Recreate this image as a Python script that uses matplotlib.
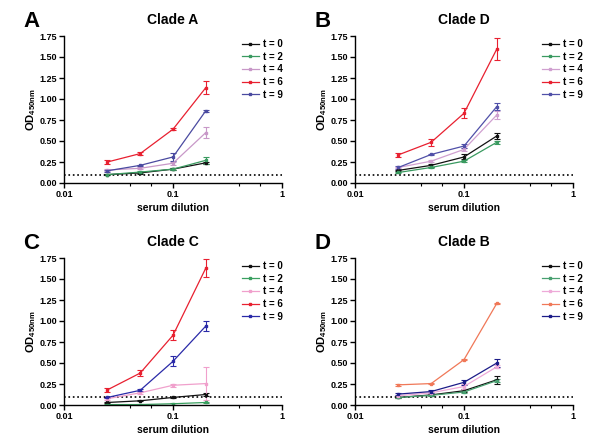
import numpy as np
import matplotlib
matplotlib.use('Agg')
import matplotlib.pyplot as plt
from matplotlib.lines import Line2D
from matplotlib.ticker import FixedLocator, FixedFormatter, MultipleLocator, FormatStrFormatter, NullFormatter

plt.rcParams['font.family'] = ['Liberation Sans', 'DejaVu Sans']
plt.rcParams['font.weight'] = 'bold'
plt.rcParams['mathtext.fontset'] = 'custom'
plt.rcParams['mathtext.bf'] = 'Liberation Sans:bold'
plt.rcParams['mathtext.rm'] = 'Liberation Sans:bold'

#---    Data (OD450nm, rows = t0, t2, t4, t6, t9)
dilution = [0.025, 0.05, 0.1, 0.2]
timepoints = ['t = 0', 't = 2', 't = 4', 't = 6', 't = 9']
cutoff = 0.1

od_clade_a = [[0.10, 0.12, 0.165, 0.24],
              [0.10, 0.13, 0.165, 0.27],
              [0.155, 0.175, 0.235, 0.60],
              [0.25, 0.35, 0.64, 1.135],
              [0.145, 0.21, 0.31, 0.86]]
err_clade_a = [[0.005, 0.01, 0.01, 0.015],
               [0.005, 0.01, 0.015, 0.04],
               [0.01, 0.01, 0.015, 0.07],
               [0.02, 0.02, 0.01, 0.08],
               [0.01, 0.01, 0.05, 0.01]]

od_clade_d = [[0.15, 0.21, 0.31, 0.56],
              [0.125, 0.185, 0.26, 0.485],
              [0.185, 0.26, 0.40, 0.81],
              [0.335, 0.485, 0.83, 1.595],
              [0.185, 0.34, 0.44, 0.91]]
err_clade_d = [[0.01, 0.015, 0.03, 0.04],
               [0.01, 0.01, 0.015, 0.015],
               [0.01, 0.015, 0.02, 0.05],
               [0.02, 0.04, 0.06, 0.13],
               [0.02, 0.01, 0.02, 0.04]]

od_clade_c = [[0.03, 0.05, 0.09, 0.125],
              [0.005, 0.005, 0.015, 0.03],
              [0.075, 0.145, 0.235, 0.255],
              [0.18, 0.38, 0.83, 1.63],
              [0.09, 0.175, 0.52, 0.94]]
err_clade_c = [[0.005, 0.005, 0.01, 0.02],
               [0.005, 0.005, 0.01, 0.01],
               [0.01, 0.01, 0.015, 0.2],
               [0.02, 0.04, 0.06, 0.11],
               [0.01, 0.01, 0.06, 0.06]]

od_clade_b = [[0.09, 0.12, 0.17, 0.30],
              [0.09, 0.115, 0.155, 0.29],
              [0.11, 0.145, 0.22, 0.455],
              [0.24, 0.255, 0.54, 1.21],
              [0.13, 0.16, 0.27, 0.50]]
err_clade_b = [[0.005, 0.01, 0.015, 0.05],
               [0.005, 0.01, 0.01, 0.02],
               [0.01, 0.01, 0.03, 0.02],
               [0.01, 0.005, 0.01, 0.01],
               [0.01, 0.02, 0.03, 0.05]]

colors_a = ['#111111', '#3a9a60', '#c898c8', '#e82030', '#4a4aa0']
colors_d = ['#111111', '#3a9a60', '#d0a0d0', '#e82030', '#5050a8']
colors_c = ['#111111', '#3aa060', '#f0a0cc', '#e82030', '#2a2aa8']
colors_b = ['#111111', '#48a070', '#eeaad8', '#f07858', '#1c1c88']

panels = [('A', 'Clade A', od_clade_a, err_clade_a, colors_a, [64, 36]),
          ('B', 'Clade D', od_clade_d, err_clade_d, colors_d, [355, 36]),
          ('C', 'Clade C', od_clade_c, err_clade_c, colors_c, [64, 258]),
          ('D', 'Clade B', od_clade_b, err_clade_b, colors_b, [355, 258])]

W, H = 600, 440
fig = plt.figure(figsize=(6, 4.4), dpi=100)

for letter, title, od, err, cols, (px, py) in panels:
    ax = fig.add_axes([px / W, 1 - (py + 147) / H, 218 / W, 147 / H])

    handles = []
    for k in range(len(timepoints)):
        ax.errorbar(dilution, od[k], yerr=err[k], color=cols[k], lw=0.9, marker='s',
                    ms=2, capsize=2, elinewidth=0.8, capthick=0.8)
        handles.append(Line2D([], [], color=cols[k], lw=0.9, marker='s', ms=2))

    ax.plot([0.01, 1], [cutoff, cutoff], 'k:', lw=1.2)

    ax.set_xscale('log')
    ax.set_xlim(0.01, 1)
    ax.set_ylim(0, 1.75)
    ax.xaxis.set_major_locator(FixedLocator([0.01, 0.1, 1]))
    ax.xaxis.set_major_formatter(FixedFormatter(['0.01', '0.1', '1']))
    ax.xaxis.set_minor_locator(FixedLocator([0.04, 0.063, 0.4, 0.63]))
    ax.xaxis.set_minor_formatter(NullFormatter())
    ax.yaxis.set_major_locator(MultipleLocator(0.25))
    ax.yaxis.set_major_formatter(FormatStrFormatter('%.2f'))

    for s in ['top', 'right']:
        ax.spines[s].set_visible(False)
    for s in ['left', 'bottom']:
        ax.spines[s].set_linewidth(1.0)
    ax.tick_params(axis='both', which='major', labelsize=6.5, length=3.5, width=1, pad=1.5)
    ax.tick_params(axis='x', which='minor', length=2.5, width=0.8)

    ax.set_title(title, fontsize=10, fontweight='bold', pad=9)
    ax.set_xlabel('serum dilution', fontsize=7.5, fontweight='bold', labelpad=3)
    ax.set_ylabel(r'OD$_{\mathbf{450nm}}$', fontsize=8, fontweight='bold')
    ax.yaxis.set_label_coords(-0.12, 0.5)

    ax.legend(handles, timepoints, loc='upper left', bbox_to_anchor=((242 - px % 300) / 218, 0.98),
              frameon=False, fontsize=7, handlelength=1.7, handletextpad=0.5,
              labelspacing=0.28, borderpad=0, borderaxespad=0)

    fig.text((px - 41) / W, 1 - (py - 9) / H, letter, fontsize=16, fontweight='bold',
             ha='left', va='baseline')

plt.savefig('out.png', dpi=100, facecolor='white')
